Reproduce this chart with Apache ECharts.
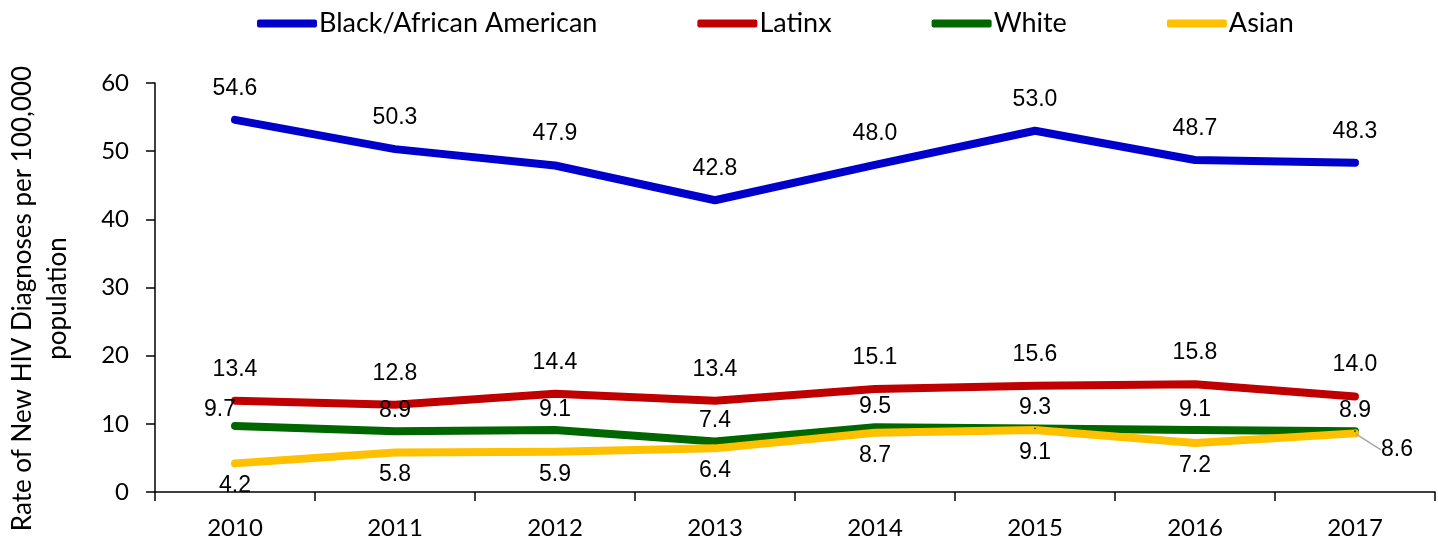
<!DOCTYPE html>
<html><head><meta charset="utf-8">
<script src="https://cdn.jsdelivr.net/npm/echarts@6/dist/echarts.min.js"></script>
<style>html,body{margin:0;padding:0;background:#fff}#c{width:1438px;height:544px}</style>
</head><body><div id="c"></div>
<script>
const years = ['2010','2011','2012','2013','2014','2015','2016','2017'];
const black = [54.6, 50.3, 47.9, 42.8, 48.0, 53.0, 48.7, 48.3];
const latinx = [13.4, 12.8, 14.4, 13.4, 15.1, 15.6, 15.8, 14.0];
const white = [9.7, 8.9, 9.1, 7.4, 9.5, 9.3, 9.1, 8.9];
const asian = [4.2, 5.8, 5.9, 6.4, 8.7, 9.1, 7.2, 8.6];
const yTicks = [0, 10, 20, 30, 40, 50, 60];

const chart = echarts.init(document.getElementById('c'));
const labelFont = {fontFamily: 'Liberation Sans', fontSize: 23, color: '#000'};
function mk(name, data, color, pos, dist, extra) {
  return Object.assign({
    name, type: 'line', data: data.map(v => v),
    symbol: 'circle', symbolSize: 2, showSymbol: true,
    itemStyle: {color},
    lineStyle: {color, width: 8, cap: 'round', join: 'round'},
    label: Object.assign({show: true, position: pos, distance: dist, formatter: p => p.value.toFixed(1)}, labelFont),
    labelLine: {show: false},
    emphasis: {disabled: true},
    animation: false
  }, extra || {});
}
const whiteData = white.map((v, i) => i === 0 ? {value: v, label: {offset: [-15, 4]}} : v);
const asianData = asian.map((v, i) => i === asian.length - 1
  ? {value: v, labelLine: {show: true, lineStyle: {color: '#A6A6A6', width: 1.5}}} : v);
chart.setOption({
  animation: false,
  legend: {
    top: 5, left: 252, itemGap: 100, itemWidth: 60, itemHeight: 8, icon: 'roundRect',
    textStyle: {fontFamily: 'Lato', fontSize: 27, color: '#000', padding: [0, 0, 0, -3]},
    data: ['Black/African American', 'Latinx', 'White', 'Asian']
  },
  grid: {left: 155, right: 3, top: 83, bottom: 52, containLabel: false, outerBoundsMode: 'none'},
  xAxis: {
    type: 'category', data: years, boundaryGap: true,
    axisLine: {lineStyle: {color: '#000', width: 1.5}},
    axisTick: {show: true, length: 9, inside: false, lineStyle: {color: '#000', width: 1.5}},
    axisLabel: {fontFamily: 'Lato', fontSize: 24, color: '#000', margin: 24}
  },
  yAxis: {
    type: 'value', min: yTicks[0], max: yTicks[yTicks.length - 1], interval: 10,
    name: 'Rate of New HIV Diagnoses per 100,000\npopulation',
    nameLocation: 'middle', nameGap: 80, nameRotate: 90,
    nameTextStyle: {fontFamily: 'Lato', fontSize: 26, color: '#000', lineHeight: 35, padding: [0, 22, 0, 0]},
    axisLine: {show: true, lineStyle: {color: '#000', width: 1.5}},
    axisTick: {show: true, length: 9, lineStyle: {color: '#000', width: 1.5}},
    splitLine: {show: false},
    axisLabel: {fontFamily: 'Lato', fontSize: 24, color: '#000', margin: 26}
  },
  series: [
    mk('Black/African American', black, '#0000CC', 'top', 19),
    mk('Latinx', latinx, '#C00000', 'top', 19),
    Object.assign(mk('White', white, '#006600', 'top', 8), {data: whiteData}),
    Object.assign(mk('Asian', asian, '#FFC000', 'bottom', 10, {
      labelLayout: function (p) {
        if (p.dataIndex === 7) {
          return {x: p.rect.x + p.rect.width / 2 + 26, y: p.rect.y + 6, align: 'left'};
        }
        return {};
      }
    }), {data: asianData})
  ]
});
</script></body></html>
